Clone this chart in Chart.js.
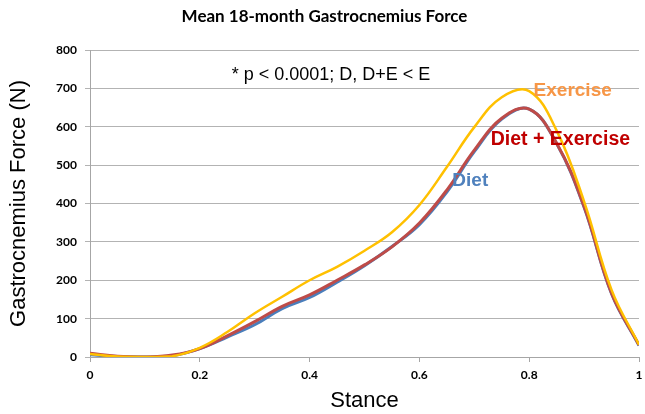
<!DOCTYPE html>
<html>
<head>
<meta charset="utf-8">
<script src="https://cdn.jsdelivr.net/npm/chart.js@4/dist/chart.umd.min.js"></script>
<style>
  html, body { margin: 0; padding: 0; background: #fff; }
  #wrap { width: 645px; height: 414px; }
</style>
</head>
<body>
<div id="wrap"><canvas id="myChart" width="645" height="414"></canvas></div>
<script>
// stance (fraction of stance phase)
var stance = [0, 0.05, 0.1, 0.15, 0.2, 0.25, 0.3, 0.35, 0.4, 0.45, 0.5, 0.55, 0.6, 0.65, 0.7, 0.75, 0.8, 0.85, 0.9, 0.95, 1];
// force values (N)
var diet       = [6, 1, 0, 3, 22, 52, 84, 126, 155, 195, 238, 288, 345, 430, 535, 620, 646, 556, 390, 165, 30];
var dietEx     = [10, 2, 0, 5, 22, 55, 92, 132, 162, 200, 240, 287, 349, 435, 539, 622, 646, 557, 392, 166, 31];
var exercise   = [8, 1, 0, 2, 24, 65, 114, 157, 200, 235, 277, 325, 396, 495, 599, 677, 693, 590, 405, 175, 32];

var yTicks = [0, 100, 200, 300, 400, 500, 600, 700, 800];
var xTicks = [0, 0.2, 0.4, 0.6, 0.8, 1];

var chartTitle = "Mean 18-month Gastrocnemius Force";

// text labels placed in data units
var labels = [
  { text: "* p < 0.0001; D, D+E < E", x: 0.258, y: 734, color: "#000000", font: "18px 'Liberation Sans', Arial" },
  { text: "Exercise", x: 0.808, y: 695, color: "#f79646", font: "bold 19px 'Liberation Sans', Arial" },
  { text: "Diet + Exercise", x: 0.73, y: 567, color: "#c00000", font: "bold 19.5px 'Liberation Sans', Arial" },
  { text: "Diet", x: 0.66, y: 460, color: "#4f81bd", font: "bold 19px 'Liberation Sans', Arial" }
];

function toPoints(vals){
  return stance.map(function(s, i){ return { x: s, y: vals[i] }; });
}

var textPlugin = {
  id: "textLabels",
  afterDatasetsDraw: function(chart){
    var ctx = chart.ctx;
    var xs = chart.scales.x, ys = chart.scales.y;
    ctx.save();
    ctx.textBaseline = "middle";
    ctx.textAlign = "left";
    labels.forEach(function(l){
      ctx.font = l.font;
      ctx.fillStyle = l.color;
      ctx.fillText(l.text, xs.getPixelForValue(l.x), ys.getPixelForValue(l.y));
    });
    // chart title
    ctx.font = "bold 17px Lato";
    ctx.fillStyle = "#000";
    ctx.textAlign = "center";
    ctx.fillText(chartTitle, chart.width / 2 + 2, 17);
    ctx.restore();
  }
};

new Chart("myChart", {
  type: "line",
  data: {
    datasets: [
      { label: "Exercise", data: toPoints(exercise), borderColor: "#ffc000", borderWidth: 2.5, order: 0 },
      { label: "Diet + Exercise", data: toPoints(dietEx), borderColor: "#be4b48", borderWidth: 3, order: 1 },
      { label: "Diet", data: toPoints(diet), borderColor: "#4a7ebb", borderWidth: 3, order: 2 }
    ]
  },
  options: {
    responsive: false,
    animation: false,
    layout: { padding: { left: 0, right: 0, top: 50, bottom: 0 } },
    elements: {
      point: { radius: 0 },
      line: { tension: 0.4, fill: false }
    },
    plugins: {
      legend: { display: false },
      tooltip: { enabled: false },
      title: { display: false }
    },
    scales: {
      x: {
        type: "linear",
        min: 0, max: 1,
        afterBuildTicks: function(axis){ axis.ticks = xTicks.map(function(v){ return { value: v }; }); },
        afterFit: function(axis){ axis.height = 57; axis.paddingRight = 6; },
        grid: { display: true, drawOnChartArea: false, drawTicks: true, tickLength: 5, color: "#a6a6a6" },
        border: { color: "#a6a6a6" },
        ticks: {
          color: "#000", padding: 6, maxRotation: 0,
          font: { family: "Lato", size: 12, weight: "bold" },
          callback: function(v){ return String(v); }
        },
        title: {
          display: true, text: "Stance", color: "#000",
          font: { family: "'Liberation Sans', Arial", size: 22 },
          padding: { top: 0, bottom: 0 }
        }
      },
      y: {
        min: 0, max: 800,
        afterBuildTicks: function(axis){ axis.ticks = yTicks.map(function(v){ return { value: v }; }); },
        afterFit: function(axis){ axis.width = 90; },
        grid: { color: "#b3b3b3", tickLength: 5, lineWidth: 1 },
        border: { color: "#a6a6a6" },
        ticks: {
          color: "#000", padding: 8,
          font: { family: "Lato", size: 12, weight: "bold" }
        },
        title: {
          display: true, text: "Gastrocnemius Force (N)", color: "#000",
          font: { family: "'Liberation Sans', Arial", size: 22 },
          padding: { top: 6, bottom: 0 }
        }
      }
    }
  },
  plugins: [textPlugin]
});
</script>
</body>
</html>
